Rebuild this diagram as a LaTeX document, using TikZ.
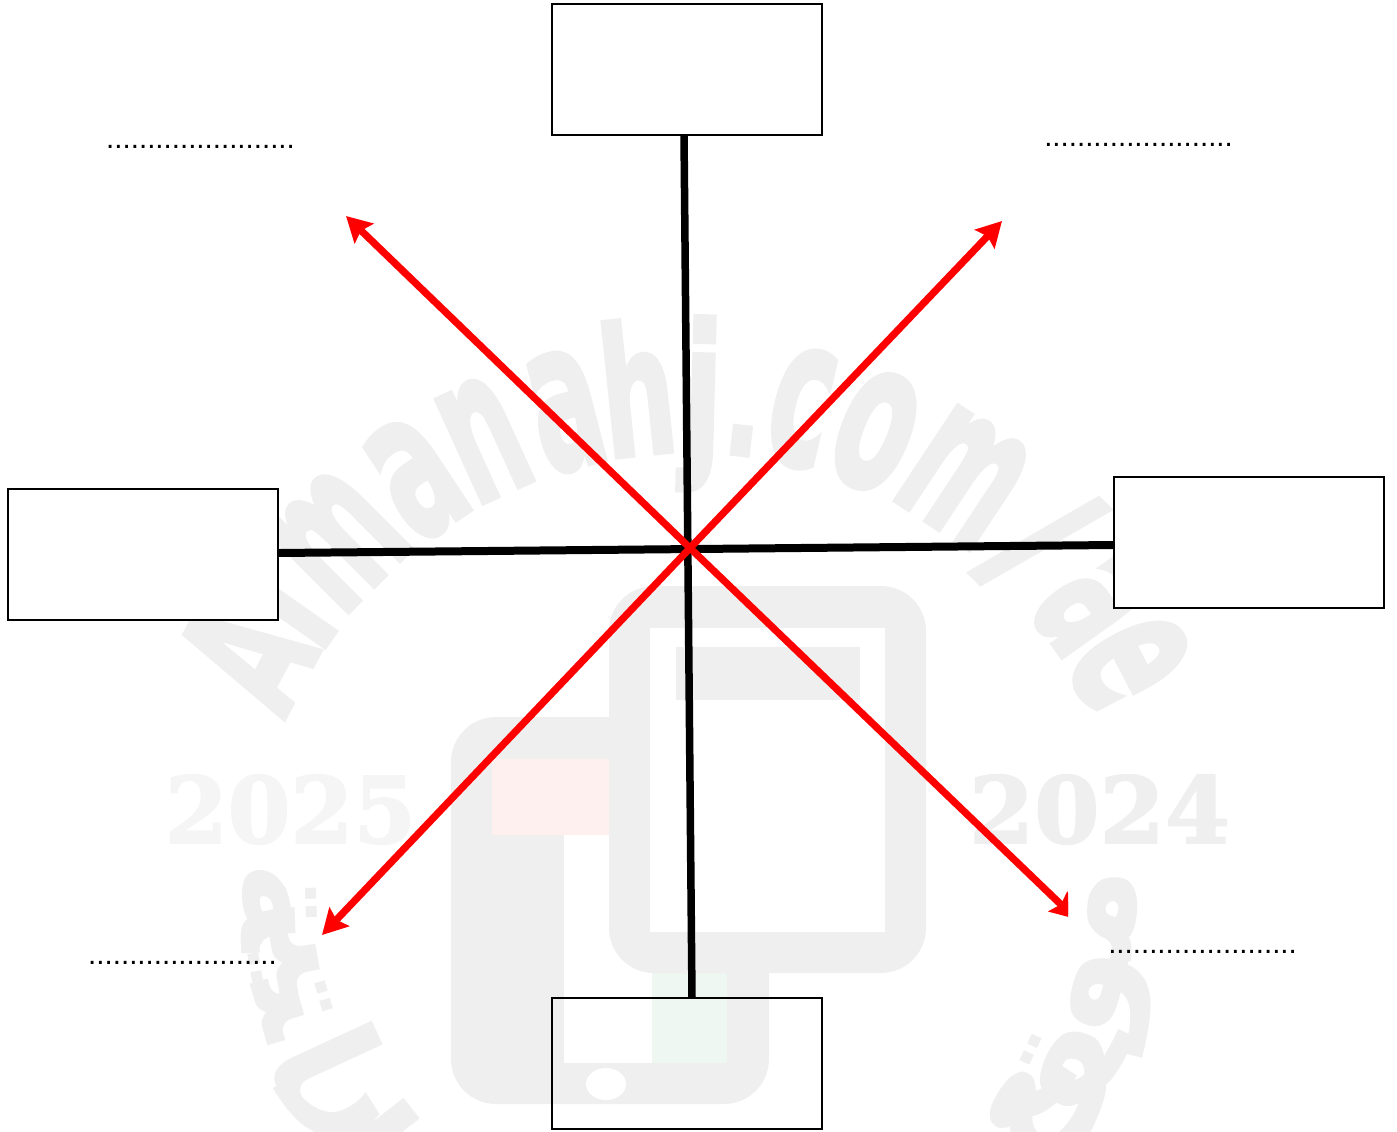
\documentclass[tikz,border=0pt]{standalone}
\usepackage{fontspec}
\usepackage{graphicx}
\usetikzlibrary{arrows.meta,calc}
\setmainfont{Liberation Sans}
\newfontfamily\wmsans[FakeBold=2.5]{DejaVu Sans Bold}
\newfontfamily\wmarabfont{DejaVu Sans Bold}
\newfontfamily\wmserif[FakeBold=2]{DejaVu Serif Bold}
\definecolor{wmgray}{HTML}{EFEFEF}
\definecolor{wmlight}{HTML}{F5F5F5}
\definecolor{wmred}{HTML}{FDF0EF}
\definecolor{wmgreen}{HTML}{EEF7F2}
\definecolor{arrowred}{HTML}{FF0000}
\newcount\wmn
\tikzset{
  box/.style={draw=black,line width=2.7pt,minimum width=270pt,minimum height=131pt,inner sep=0pt,outer sep=0pt},
  blackline/.style={draw=black,line width=8pt},
  redarrow/.style={draw=arrowred,line width=7.2pt,-{Stealth[length=25pt,width=27pt,inset=4pt]}},
  dotlabel/.style={font=\fontsize{29.5}{30}\selectfont,inner sep=0pt,anchor=base},
  wmtext/.style={text=wmgray,inner sep=0pt,font=\wmsans\fontsize{167}{167}\selectfont},
  wmarabic/.style={text=wmgray,inner sep=0pt,font=\wmarabfont\fontsize{150}{150}\selectfont},
  wmyear/.style={inner sep=0pt,anchor=base,font=\wmserif\fontsize{92}{92}\selectfont}
}
\newcommand{\wmletter}[4]{%
  \global\advance\wmn by 1
  \node[wmtext,rotate=-#1,anchor=base] (wm\the\wmn) at ({690+439*sin(#1)},{891-439*cos(#1)}) {\scalebox{#2}[#3]{#4}};}
\newcommand{\wmarab}[3]{%
  \global\advance\wmn by 1
  \node[wmarabic,rotate=#1] (wm\the\wmn) at ({690+#2*sin(#1)},{891+#2*cos(#1)}) {#3};}
\begin{document}
\begin{tikzpicture}[x=1pt,y=-1pt]
\useasboundingbox (0,0) rectangle (1397,1132);
\begin{scope}
\clip (0,0) rectangle (1397,1132);
\fill[wmgray,rounded corners=45pt] (451,717) rectangle (769,1104);
\fill[white] (564,835) rectangle (727,1063);
\fill[wmred] (492,759) rectangle (609,835);
\fill[wmgreen] (652,973) rectangle (727,1063);
\fill[white] (606,1084) ellipse [x radius=20pt,y radius=16pt];
\fill[wmgray,rounded corners=45pt] (609,586) rectangle (926,973);
\fill[white] (650,628) rectangle (885,932);
\fill[wmgray] (676,647) rectangle (860,700);
\wmletter{-62}{0.62}{1.05}{A}
\wmletter{-55}{0.70}{1.07}{l}
\wmletter{-45}{0.62}{1.24}{m}
\wmletter{-33.5}{0.66}{1.24}{a}
\wmletter{-24.5}{0.62}{1.24}{n}
\wmletter{-14.5}{0.62}{1.24}{a}
\wmletter{-6}{0.62}{1.07}{h}
\wmletter{1.5}{0.70}{1.07}{j}
\wmletter{6.5}{0.6}{0.9}{.}
\wmletter{13}{0.62}{1.24}{c}
\wmletter{22}{0.66}{1.24}{o}
\wmletter{33.5}{0.62}{1.24}{m}
\wmletter{45}{0.9}{1.05}{/}
\wmletter{54.5}{0.62}{1.24}{a}
\wmletter{62.5}{0.62}{1.24}{e}
\node[wmyear,text=wmlight] (y2025) at (290.5,843) {\scalebox{0.98}[1]{2025}};
\node[wmyear,text=wmgray] (y2024) at (1099.5,843) {\scalebox{1.02}[1]{2024}};
\wmarab{87}{423}{ﻣ}
\wmarab{76}{437}{ﻮ}
\wmarab{65}{418}{ﻘ}
\wmarab{57.4}{416}{ﻊ}
\wmarab{-88}{412}{ﺔ}
\wmarab{-80}{412}{ﻴ}
\wmarab{-74}{412}{ﺘ}
\wmarab{-65.2}{400}{ﺎ}
\wmarab{-58}{420}{ﺮ}
\wmarab{-52}{410}{ﺍ}
\end{scope}
\node[box] (top) at (687,69.5) {};
\node[box,fill=white] (left) at (143,554.5) {};
\node[box,fill=white] (right) at (1249,542.5) {};
\node[box] (bottom) at (687,1063.5) {};
\draw[blackline,line width=7.5pt] ($(top.south)+(-3,0)$) -- ($(bottom.north)+(5,0)$);
\draw[blackline] ($(left.east)+(0,-1.5)$) -- ($(right.west)+(0,2.5)$);
\coordinate (mid) at (690,548);
\coordinate (nw) at (346,216);
\coordinate (ne) at (1002,221);
\coordinate (sw) at (322,935);
\coordinate (se) at (1076,919);
\draw[redarrow] (mid) -- (nw);
\draw[redarrow] (mid) -- (ne);
\draw[redarrow] (mid) -- (sw);
\begin{scope}
\clip (0,0) rectangle (1068,1132);
\draw[redarrow] (mid) -- (se);
\end{scope}
\node[dotlabel] (l1) at (200.5,148) {.......................};
\node[dotlabel] (l2) at (1138.5,146) {.......................};
\node[dotlabel] (l3) at (182.5,964) {.......................};
\node[dotlabel] (l4) at (1202.5,953) {.......................};
\end{tikzpicture}
\end{document}
